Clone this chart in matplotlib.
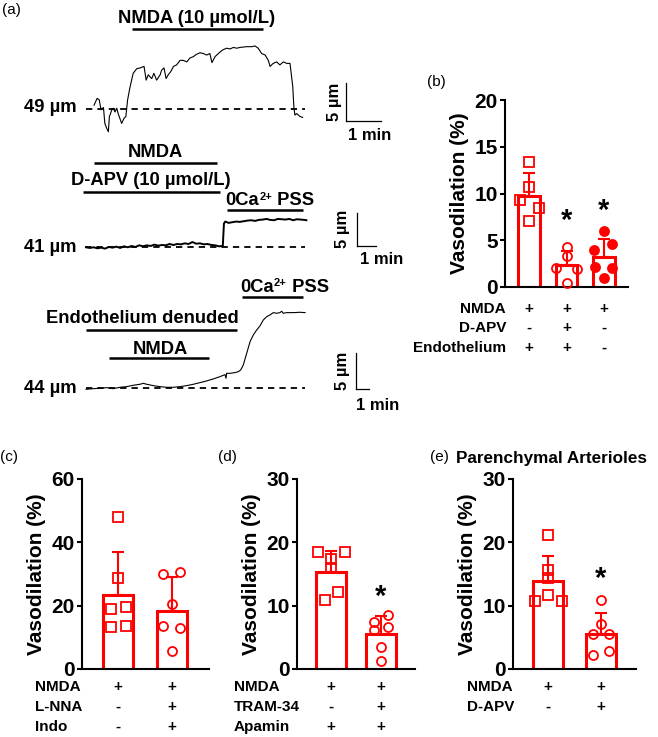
import matplotlib
matplotlib.use('Agg')
import matplotlib.pyplot as plt
import matplotlib.transforms as mtransforms
import numpy as np

# ============================================================
# DATA
# ============================================================
# (a) diameter traces: time (min) and diameter (um)
t1 = [0.0, 0.09, 0.15, 0.2, 0.27, 0.31, 0.36, 0.41, 0.44, 0.51, 0.55, 0.6, 0.65, 0.69, 0.79,
      0.86, 0.91, 0.96, 1.03, 1.12, 1.22, 1.31, 1.43, 1.49, 1.55, 1.65, 1.71, 1.79, 1.89, 1.93,
      2.0, 2.06, 2.12, 2.19, 2.27, 2.36, 2.46, 2.55, 2.65, 2.74, 2.84, 2.93, 3.03, 3.12, 3.22,
      3.31, 3.37, 3.46, 3.6, 3.69, 3.79, 3.89, 3.98, 4.08, 4.17, 4.36, 4.51, 4.6, 4.69, 4.79,
      4.89, 4.98, 5.03, 5.12, 5.22, 5.31, 5.41, 5.51, 5.6, 5.68, 5.71, 5.74, 5.79, 5.89, 5.96]
d1 = [49.5, 50.4, 50.2, 48.9, 49.2, 47.1, 46.5, 46.0, 48.0, 48.9, 49.1, 48.6, 49.1, 48.4, 47.1,
      47.8, 48.0, 50.2, 51.9, 53.7, 54.3, 54.4, 54.6, 52.8, 53.5, 53.0, 53.7, 52.8, 53.5, 54.1,
      54.4, 53.0, 53.5, 53.9, 54.6, 54.8, 55.4, 55.4, 55.2, 55.7, 55.9, 56.2, 56.4, 56.3, 56.1,
      56.3, 55.1, 55.9, 56.5, 56.8, 57.0, 56.9, 57.1, 57.0, 57.1, 57.2, 57.2, 57.3, 57.0, 56.3,
      56.1, 55.4, 54.6, 55.0, 55.2, 54.8, 55.2, 55.0, 55.0, 51.9, 49.3, 48.2, 48.4, 48.0, 47.9]

t2 = [0.0, 0.2, 0.4, 0.6, 0.8, 1.0, 1.2, 1.4, 1.6, 1.8, 2.0, 2.2, 2.4, 2.6, 2.8, 3.0, 3.2, 3.4,
      3.6, 3.8, 4.0, 4.2, 4.4, 4.6, 4.8, 5.0, 5.2, 5.4, 5.6, 5.8, 6.0, 6.2, 6.4, 6.6, 6.8, 7.0,
      7.2, 7.26, 7.33, 7.5, 7.7, 7.9, 8.1, 8.3, 8.5, 8.7, 8.9, 9.1, 9.3, 9.5, 9.7, 9.9, 10.1,
      10.3, 10.5, 10.7, 10.9, 11.1, 11.3, 11.5, 11.6]
d2 = [41.0, 40.9, 41.0, 40.85, 40.95, 40.8, 41.05, 40.95, 41.1, 40.9, 41.15, 41.0, 41.2, 41.05,
      41.3, 41.15, 41.3, 41.2, 41.4, 41.25, 41.35, 41.3, 41.5, 41.35, 41.5, 41.45, 41.6, 41.5,
      41.8, 41.55, 41.6, 41.45, 41.5, 41.35, 41.3, 41.15, 41.2, 44.6, 44.9, 44.7, 44.8, 44.9,
      44.85, 44.95, 45.05, 45.1, 45.0, 45.15, 45.2, 45.3, 45.15, 45.1, 45.3, 45.25, 45.2, 45.3,
      45.1, 45.25, 45.2, 45.15, 45.1]

t3 = [0.0, 0.56, 1.08, 1.59, 2.1, 2.62, 3.13, 3.64, 4.15, 4.41, 4.67, 5.18, 5.69, 6.21, 6.72,
      7.23, 7.74, 8.26, 8.77, 9.28, 9.79, 10.31, 10.69, 10.77, 10.82, 11.08, 11.46, 11.72, 11.9,
      12.1, 12.36, 12.62, 12.87, 13.13, 13.38, 13.64, 13.9, 14.15, 14.41, 14.67, 14.92, 15.05,
      15.18, 15.44, 15.95, 16.46, 16.85]
d3 = [43.86, 43.95, 44.0, 44.09, 43.95, 44.14, 44.23, 44.42, 44.56, 44.69, 44.56, 44.37, 44.23,
      44.14, 44.14, 44.23, 44.37, 44.56, 44.79, 45.02, 45.3, 45.62, 45.9, 45.39, 46.08, 46.08,
      46.18, 46.31, 46.55, 47.24, 48.86, 50.48, 51.41, 52.1, 52.66, 53.49, 53.95, 54.19, 54.51,
      54.42, 54.51, 54.7, 54.42, 54.51, 54.51, 54.56, 54.51]

# baselines (um) and drug application periods (min)
base1, base2, base3 = 49, 41, 44
tr1_nmda = (1.08, 4.84)
tr2_nmda = (0.42, 6.88)
tr2_dapv = (-0.17, 7.05)
tr2_ca0 = (7.41, 11.44)
tr3_ca0 = (11.98, 16.72)
tr3_endo = (0.0, 11.64)
tr3_nmda = (1.79, 9.48)

# (b) - (e) vasodilation (%)
b_mean = [9.7, 2.3, 3.2]
b_sd = [2.5, 1.6, 1.9]
b_pts = [[13.4, 10.7, 9.3, 8.4, 7.05], [4.3, 3.3, 2.0, 1.9, 0.4], [6.0, 4.65, 4.0, 2.1, 2.0, 1.0]]
b_rows = ['NMDA', 'D-APV', 'Endothelium']
b_signs = [['+', '+', '+'], ['-', '+', '-'], ['+', '+', '-']]

c_mean = [23.4, 18.4]
c_sd = [13.4, 10.5]
c_pts = [[48.0, 28.8, 18.8, 19.6, 13.2, 13.7], [29.9, 30.7, 20.4, 13.6, 12.8, 5.7]]
c_rows = ['NMDA', 'L-NNA', 'Indo']
c_signs = [['+', '+'], ['-', '+'], ['-', '+']]

d_mean = [15.3, 5.5]
d_sd = [3.4, 2.8]
d_pts = [[18.4, 18.4, 17.3, 15.9, 12.1, 10.9], [8.6, 7.4, 6.7, 6.1, 3.4, 1.2]]
d_rows = ['NMDA', 'TRAM-34', 'Apamin']
d_signs = [['+', '+'], ['-', '+'], ['+', '+']]

e_mean = [13.9, 5.6]
e_sd = [4.0, 3.2]
e_pts = [[21.2, 15.6, 14.4, 11.7, 10.7, 10.7], [10.9, 7.1, 5.5, 5.5, 2.9, 2.2]]
e_rows = ['NMDA', 'D-APV']
e_signs = [['+', '+'], ['-', '+']]

# horizontal scatter of the points (layout only)
b_jit = [[0, 0, -0.24, 0.27, 0], [0, 0, -0.28, 0.27, 0], [0, 0.22, -0.26, -0.24, 0.22, 0]]
c_jit = [[0, 0, -0.13, 0.14, -0.13, 0.14], [-0.16, 0.14, 0, -0.16, 0.14, 0]]
d_jit = [[-0.26, 0.27, 0, 0, 0.13, -0.13], [0.14, -0.14, 0.14, -0.14, 0, 0]]
e_jit = [[0, 0, 0, 0, -0.25, 0.26], [0, 0, -0.15, 0.15, 0.15, -0.15]]

# ============================================================
# STYLE
# ============================================================
W, H = 658, 737
RED = '#ff0000'
FS_TRACE = 13.2
FS_SCALE = 12
FS_TICK = 15
FS_ROW = 11

plt.rcParams['font.family'] = ['Liberation Sans', 'DejaVu Sans']
plt.rcParams['font.weight'] = 'bold'
plt.rcParams['axes.labelweight'] = 'bold'

fig = plt.figure(figsize=(W / 100, H / 100), dpi=100)
renderer = fig.canvas.get_renderer()


def px_axes(x0, y0, x1, y1):
    return fig.add_axes([x0 / W, 1 - y1 / H, (x1 - x0) / W, (y1 - y0) / H])


def ftext(x, y, s, **kw):
    kw.setdefault('fontsize', FS_TRACE)
    return fig.text(x / W, 1 - y / H, s, **kw)


def ca_label(xc, y):
    # "0Ca2+ PSS" with a small raised 2+, pieces laid out side by side
    parts = [ftext(0, y, '0Ca', va='baseline'),
             ftext(0, y - 5.5, '2+', va='baseline', fontsize=8),
             ftext(0, y, ' PSS', va='baseline')]
    widths = [p.get_window_extent(renderer).width for p in parts]
    x = xc - sum(widths) / 2
    for p, w in zip(parts, widths):
        p.set_x(x / W)
        x += w


# ============================================================
# (a) TRACES
# ============================================================
def trace_axes(box, base, t_px0, y_px0, px_min, px_um):
    x0, y0, x1, y1 = box
    ax = px_axes(*box)
    ax.set_xlim((x0 - t_px0) / px_min, (x1 - t_px0) / px_min)
    ax.set_ylim(base - (y1 - y_px0) / px_um, base + (y_px0 - y0) / px_um)
    ax.axis('off')
    tx = lambda px: (px - t_px0) / px_min
    dy = lambda py: base + (y_px0 - py) / px_um
    return ax, tx, dy


def baseline(ax, tx, base, xa, xb):
    ax.plot([tx(xa), tx(xb)], [base, base], color='black', lw=1.3, ls=(0, (3.5, 2.8)))


def drug_bar(ax, dy, period, py):
    ax.plot(period, [dy(py), dy(py)], color='black', lw=1.8, solid_capstyle='butt')


def scale_bar(ax, tx, dy, cx, cy):
    ax.plot([tx(cx), tx(cx) + 1], [dy(cy), dy(cy)], color='black', lw=0.9)
    ax.plot([tx(cx), tx(cx)], [dy(cy), dy(cy) + 5], color='black', lw=0.9)


# trace 1
ax, tx, dy = trace_axes((80, 0, 400, 140), base1, 94, 109, 35, 7.6)
baseline(ax, tx, base1, 86, 305)
ax.plot(t1, d1, color='black', lw=0.8)
drug_bar(ax, dy, tr1_nmda, 29.3)
scale_bar(ax, tx, dy, 346, 121)
ftext(197, 22.7, 'NMDA (10 µmol/L)', ha='center', va='baseline')
ftext(77, 111.7, '49 µm', ha='right', va='baseline')
ftext(334, 102, '5 µm', ha='center', va='center', rotation=90, fontsize=FS_SCALE)
ftext(370, 135, '1 min', ha='center', va='center', fontsize=FS_SCALE)

# trace 2
ax, tx, dy = trace_axes((80, 140, 400, 270), base2, 86, 247.3, 19, 6.6)
baseline(ax, tx, base2, 85, 305)
ax.plot(t2, d2, color='black', lw=1.4)
drug_bar(ax, dy, tr2_nmda, 162.7)
drug_bar(ax, dy, tr2_dapv, 192.3)
drug_bar(ax, dy, tr2_ca0, 210)
scale_bar(ax, tx, dy, 357, 246)
ftext(155.5, 157.3, 'NMDA', ha='center', va='baseline')
ftext(151, 185, 'D-APV (10 µmol/L)', ha='center', va='baseline')
ca_label(270, 205)
ftext(77, 251.7, '41 µm', ha='right', va='baseline')
ftext(343, 229, '5 µm', ha='center', va='center', rotation=90, fontsize=FS_SCALE)
ftext(382, 260, '1 min', ha='center', va='center', fontsize=FS_SCALE)

# trace 3
ax, tx, dy = trace_axes((80, 270, 400, 420), base3, 86, 388.3, 13, 7.2)
baseline(ax, tx, base3, 86, 305)
ax.plot(t3, d3, color='black', lw=0.8)
drug_bar(ax, dy, tr3_ca0, 296.7)
drug_bar(ax, dy, tr3_endo, 330)
drug_bar(ax, dy, tr3_nmda, 358.3)
scale_bar(ax, tx, dy, 356, 389)
ca_label(284.5, 291.7)
ftext(142, 323.3, 'Endothelium denuded', ha='center', va='baseline')
ftext(160, 354, 'NMDA', ha='center', va='baseline')
ftext(77, 393.3, '44 µm', ha='right', va='baseline')
ftext(342, 371, '5 µm', ha='center', va='center', rotation=90, fontsize=FS_SCALE)
ftext(378, 405, '1 min', ha='center', va='center', fontsize=FS_SCALE)


# ============================================================
# (b)-(e) BAR CHARTS
# ============================================================
def bar_panel(box, xlim, ymax, ystep, means, sds, pts, jit, marks, fills, width,
              stars, rows, signs, row_x, row_ha, row_ys):
    ax = px_axes(*box)
    n = len(means)
    x = np.arange(n)
    ax.bar(x, means, width, color='white', edgecolor=RED, lw=2.2, zorder=2)
    ax.errorbar(x, means, yerr=[np.zeros(n), sds], fmt='none', ecolor=RED,
                elinewidth=1.5, capsize=4.5, capthick=1.5, zorder=1)
    for i in range(n):
        ax.plot(i + np.array(jit[i]), pts[i], ls='none', marker=marks[i], ms=6.5, mew=1.3,
                mec=RED, mfc=RED if fills[i] else 'none', zorder=3, clip_on=False)
    for i, ys in stars:
        ax.text(i, ys, '*', ha='center', va='center', fontsize=21, fontweight='bold')
    ax.set_xlim(*xlim)
    ax.set_ylim(0, ymax)
    ax.set_yticks(np.arange(0, ymax + 1, ystep))
    ax.set_xticks([])
    for s in ['top', 'right']:
        ax.spines[s].set_visible(False)
    for s in ['left', 'bottom']:
        ax.spines[s].set_linewidth(1.5)
    ax.tick_params(axis='y', length=3.6, width=1.5, labelsize=FS_TICK, pad=1.5)
    ax.set_ylabel('Vasodilation (%)', fontsize=FS_TICK, labelpad=4)
    trans = mtransforms.blended_transform_factory(ax.transData, fig.transFigure)
    for r, (name, sg) in enumerate(zip(rows, signs)):
        yf = 1 - row_ys[r] / H
        fig.text(row_x / W, yf, name, ha=row_ha, va='center', fontsize=FS_ROW)
        for i, s in enumerate(sg):
            ax.text(i, yf, s, transform=trans, ha='center', va='center', fontsize=FS_ROW)
    return ax


bar_panel((505, 100, 628, 287), (-0.64, 2.64), 20, 5, b_mean, b_sd, b_pts, b_jit,
          ['s', 'o', 'o'], [False, False, True], 0.57, [(1, 7.1), (2, 8.1)],
          b_rows, b_signs, 506, 'right', [309, 328, 348])

bar_panel((82, 479, 209, 669), (-0.667, 1.685), 60, 20, c_mean, c_sd, c_pts, c_jit,
          ['s', 'o'], [False, False], 0.57, [],
          c_rows, c_signs, 35, 'left', [687, 707, 727])

bar_panel((297, 479, 415, 669), (-0.68, 1.68), 30, 10, d_mean, d_sd, d_pts, d_jit,
          ['s', 'o'], [False, False], 0.6, [(1, 11.4)],
          d_rows, d_signs, 234, 'left', [687, 707, 727])

bar_panel((513, 479, 636, 669), (-0.66, 1.66), 30, 10, e_mean, e_sd, e_pts, e_jit,
          ['s', 'o'], [False, False], 0.57, [(1, 14.2)],
          e_rows, e_signs, 467, 'left', [687, 707])

# panel labels
for lab, x, y in [('(a)', 11, 10), ('(b)', 436, 82), ('(c)', 9, 457),
                  ('(d)', 227, 457), ('(e)', 439, 457)]:
    ftext(x, y, lab, ha='center', va='center', fontsize=11, fontweight='normal')
ftext(552, 463, 'Parenchymal Arterioles', ha='center', va='baseline', fontsize=12.3)

fig.savefig('out.png', dpi=100)
